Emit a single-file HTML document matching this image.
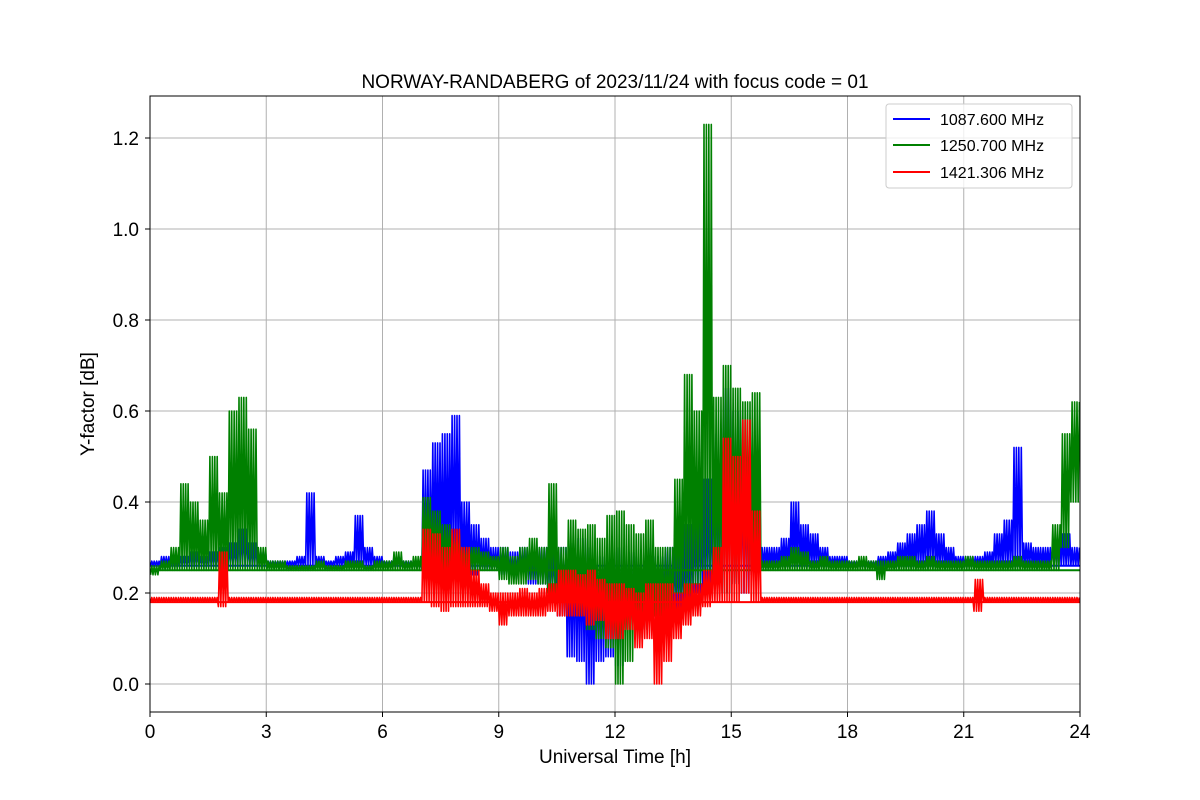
<!DOCTYPE html>
<html><head><meta charset="utf-8"><style>
html,body{margin:0;padding:0;background:#fff;}
svg{display:block;font-family:"Liberation Sans","DejaVu Sans",sans-serif;}
</style></head><body>
<svg id="chart" width="1200" height="800" viewBox="0 0 1200 800" xmlns="http://www.w3.org/2000/svg">
<rect width="1200" height="800" fill="#fff"/>
<defs><clipPath id="clip"><rect x="150" y="96" width="930" height="616"/></clipPath></defs>
<g id="grid"></g>
<g id="series" clip-path="url(#clip)"></g>
<rect x="150" y="96" width="930" height="616" fill="none" stroke="#000" stroke-width="1"/>
<g id="ticks"></g>
<text x="615" y="88" text-anchor="middle" font-size="19">NORWAY-RANDABERG of 2023/11/24 with focus code = 01</text>
<text x="615" y="763" text-anchor="middle" font-size="19">Universal Time [h]</text>
<text x="94" y="404" text-anchor="middle" font-size="19" transform="rotate(-90 94 404)">Y-factor [dB]</text>
<g>
<rect x="886" y="104" width="186" height="84" fill="#fff" fill-opacity="0.8" stroke="#ccc" rx="3"/>
<g><line x1="893" y1="119" x2="930" y2="119" stroke="#0000ff" stroke-width="2"/><text x="940" y="125" font-size="16">1087.600 MHz</text></g>
<g><line x1="893" y1="145" x2="930" y2="145" stroke="#008000" stroke-width="2"/><text x="940" y="151" font-size="16">1250.700 MHz</text></g>
<g><line x1="893" y1="172" x2="930" y2="172" stroke="#ff0000" stroke-width="2"/><text x="940" y="178" font-size="16">1421.306 MHz</text></g>
</g>
</svg>
<script>
const xTicks = [0,3,6,9,12,15,18,21,24];
const yTicks = [0.0,0.2,0.4,0.6,0.8,1.0,1.2];
const yTickLabels = ["0.0","0.2","0.4","0.6","0.8","1.0","1.2"];
const binHours = 0.25;
const blueHi = [0.27,0.28,0.27,0.28,0.29,0.28,0.29,0.30, 0.31,0.34,0.31,0.29,0.27,0.27,0.27,0.28, 0.42,0.28,0.27,0.28,0.29,0.37,0.30,0.28, 0.27,0.28,0.27,0.27,0.47,0.53,0.55,0.59, 0.40,0.35,0.32,0.30,0.30,0.29,0.30,0.29, 0.30,0.29,0.30,0.31,0.32,0.30,0.28,0.29, 0.30,0.29,0.28,0.30,0.28,0.30,0.32,0.35, 0.40,0.45,0.55,0.65,0.60,0.50,0.45,0.30, 0.30,0.32,0.40,0.35,0.33,0.30,0.28,0.28, 0.27,0.27,0.27,0.28,0.29,0.31,0.33,0.35, 0.38,0.33,0.30,0.28,0.28,0.28,0.29,0.33, 0.36,0.52,0.31,0.30,0.30,0.31,0.33,0.30];
const blueLo = [0.26,0.26,0.26,0.26,0.26,0.26,0.26,0.26, 0.26,0.26,0.26,0.26,0.26,0.26,0.26,0.26, 0.26,0.26,0.26,0.26,0.26,0.26,0.26,0.26, 0.26,0.26,0.26,0.26,0.25,0.26,0.25,0.27, 0.25,0.24,0.25,0.25,0.24,0.23,0.24,0.22, 0.22,0.21,0.15,0.06,0.05,0.00,0.05,0.06, 0.04,0.12,0.14,0.12,0.15,0.15,0.16,0.17, 0.20,0.20,0.22,0.20,0.22,0.20,0.24,0.26, 0.26,0.26,0.26,0.26,0.26,0.26,0.26,0.26, 0.26,0.26,0.26,0.26,0.26,0.26,0.26,0.26, 0.26,0.26,0.26,0.26,0.26,0.26,0.26,0.26, 0.26,0.26,0.26,0.26,0.26,0.26,0.26,0.26];
const greenHi = [0.26,0.27,0.30,0.44,0.40,0.36,0.50,0.42, 0.60,0.63,0.56,0.30,0.27,0.27,0.26,0.26, 0.26,0.27,0.26,0.26,0.27,0.27,0.26,0.27, 0.27,0.29,0.27,0.28,0.41,0.38,0.35,0.33, 0.30,0.30,0.29,0.28,0.30,0.28,0.30,0.32, 0.30,0.44,0.30,0.36,0.34,0.35,0.32,0.37, 0.38,0.35,0.33,0.36,0.30,0.30,0.45,0.68, 0.60,1.23,0.63,0.70,0.65,0.62,0.64,0.27, 0.27,0.28,0.30,0.29,0.27,0.28,0.27,0.27, 0.27,0.28,0.27,0.27,0.27,0.28,0.28,0.27, 0.28,0.27,0.27,0.27,0.28,0.27,0.27,0.27, 0.27,0.28,0.27,0.27,0.27,0.35,0.55,0.62];
const greenLo = [0.24,0.25,0.25,0.25,0.25,0.25,0.25,0.25, 0.25,0.25,0.25,0.25,0.25,0.25,0.25,0.25, 0.25,0.25,0.25,0.25,0.25,0.25,0.25,0.25, 0.25,0.25,0.25,0.25,0.25,0.25,0.25,0.25, 0.25,0.25,0.25,0.25,0.23,0.22,0.22,0.23, 0.22,0.20,0.18,0.17,0.15,0.12,0.10,0.08, 0.00,0.05,0.10,0.12,0.15,0.10,0.20,0.20, 0.22,0.25,0.22,0.20,0.22,0.25,0.25,0.25, 0.25,0.25,0.25,0.25,0.25,0.25,0.25,0.25, 0.25,0.25,0.25,0.23,0.25,0.25,0.25,0.25, 0.25,0.25,0.25,0.25,0.25,0.25,0.25,0.25, 0.25,0.25,0.25,0.25,0.25,0.25,0.30,0.40];
const redHi = [0.19,0.19,0.19,0.19,0.19,0.19,0.19,0.29, 0.19,0.19,0.19,0.19,0.19,0.19,0.19,0.19, 0.19,0.19,0.19,0.19,0.19,0.19,0.19,0.19, 0.19,0.19,0.19,0.19,0.34,0.33,0.30,0.34, 0.30,0.25,0.22,0.20,0.20,0.20,0.21,0.20, 0.21,0.22,0.25,0.25,0.24,0.25,0.23,0.22, 0.22,0.21,0.20,0.22,0.22,0.22,0.20,0.22, 0.22,0.25,0.30,0.54,0.50,0.58,0.38,0.19, 0.19,0.19,0.19,0.19,0.19,0.19,0.19,0.19, 0.19,0.19,0.19,0.19,0.19,0.19,0.19,0.19, 0.19,0.19,0.19,0.19,0.19,0.23,0.19,0.19, 0.19,0.19,0.19,0.19,0.19,0.19,0.19,0.19];
const redLo = [0.18,0.18,0.18,0.18,0.18,0.18,0.18,0.17, 0.18,0.18,0.18,0.18,0.18,0.18,0.18,0.18, 0.18,0.18,0.18,0.18,0.18,0.18,0.18,0.18, 0.18,0.18,0.18,0.18,0.18,0.17,0.16,0.17, 0.17,0.17,0.17,0.16,0.13,0.15,0.15,0.15, 0.15,0.16,0.15,0.15,0.15,0.13,0.14,0.10, 0.10,0.12,0.08,0.10,0.00,0.05,0.10,0.13, 0.15,0.17,0.18,0.18,0.18,0.20,0.18,0.18, 0.18,0.18,0.18,0.18,0.18,0.18,0.18,0.18, 0.18,0.18,0.18,0.18,0.18,0.18,0.18,0.18, 0.18,0.18,0.18,0.18,0.18,0.16,0.18,0.18, 0.18,0.18,0.18,0.18,0.18,0.18,0.18,0.18];
const baseBlue = 0.26, baseGreen = 0.25, baseRed = 0.18;

const NS = "http://www.w3.org/2000/svg";
const X0 = 150, X1 = 1080, Y0 = 684, PXPERUNIT = 455;
function xScale(h){ return X0 + (h/24)*(X1-X0); }
function yScale(v){ return Y0 - v*PXPERUNIT; }

const grid = document.getElementById('grid');
const ticks = document.getElementById('ticks');
xTicks.forEach(t=>{
  const x = xScale(t);
  const g = document.createElementNS(NS,'line');
  g.setAttribute('x1',x);g.setAttribute('x2',x);g.setAttribute('y1',96);g.setAttribute('y2',712);
  g.setAttribute('stroke','#b0b0b0');g.setAttribute('stroke-width','1');
  
  
  grid.appendChild(g);
  const tk = document.createElementNS(NS,'line');
  tk.setAttribute('x1',x);tk.setAttribute('x2',x);tk.setAttribute('y1',712);tk.setAttribute('y2',717);tk.setAttribute('stroke','#000');
  
  
  ticks.appendChild(tk);
  const tx = document.createElementNS(NS,'text');
  tx.setAttribute('x',x);tx.setAttribute('y',738);tx.setAttribute('text-anchor','middle');tx.setAttribute('font-size','19');
  tx.textContent = String(t);
  
  
  ticks.appendChild(tx);
});
yTicks.forEach((v,i)=>{
  const y = yScale(v);
  const g = document.createElementNS(NS,'line');
  g.setAttribute('x1',150);g.setAttribute('x2',1080);g.setAttribute('y1',y);g.setAttribute('y2',y);
  g.setAttribute('stroke','#b0b0b0');g.setAttribute('stroke-width','1');
  
  
  grid.appendChild(g);
  const tk = document.createElementNS(NS,'line');
  tk.setAttribute('x1',145);tk.setAttribute('x2',150);tk.setAttribute('y1',y);tk.setAttribute('y2',y);tk.setAttribute('stroke','#000');
  
  
  ticks.appendChild(tk);
  const tx = document.createElementNS(NS,'text');
  tx.setAttribute('x',139);tx.setAttribute('y',y+7);tx.setAttribute('text-anchor','end');tx.setAttribute('font-size','19');
  tx.textContent = yTickLabels[i];
  
  
  ticks.appendChild(tx);
});

const seriesG = document.getElementById('series');
function drawSeries(hi, lo, base, color, name){
  const bl = document.createElementNS(NS,'line');
  bl.setAttribute('x1',xScale(0));bl.setAttribute('x2',xScale(24));
  bl.setAttribute('y1',yScale(base));bl.setAttribute('y2',yScale(base));
  bl.setAttribute('stroke',color);bl.setAttribute('stroke-width','2');
  
  
  seriesG.appendChild(bl);
  const pts = [];
  const sub = 8;
  for(let i=0;i<hi.length;i++){
    for(let k=0;k<sub;k++){
      const t = i*binHours + (k+0.5)*binHours/sub;
      const v = (k%2===0) ? lo[i] : hi[i];
      pts.push(xScale(t).toFixed(1)+','+yScale(v).toFixed(1));
    }
  }
  const pl = document.createElementNS(NS,'polyline');
  pl.setAttribute('points',pts.join(' '));
  pl.setAttribute('fill','none');pl.setAttribute('stroke',color);pl.setAttribute('stroke-width','1.6');
  pl.setAttribute('stroke-linejoin','round');
  
  
  seriesG.appendChild(pl);
}
drawSeries(blueHi, blueLo, baseBlue, '#0000ff', 'series-1087-mhz');
drawSeries(greenHi, greenLo, baseGreen, '#008000', 'series-1250-mhz');
drawSeries(redHi, redLo, baseRed, '#ff0000', 'series-1421-mhz');
</script>
</body></html>
